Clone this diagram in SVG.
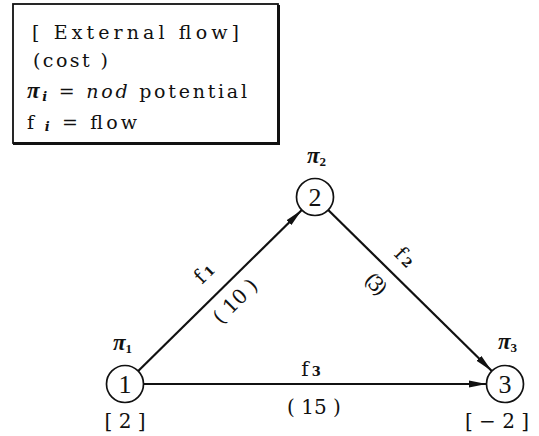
<svg xmlns="http://www.w3.org/2000/svg" width="539" height="436" viewBox="0 0 539 436">
<defs>
<style>
text{font-family:"Liberation Serif","DejaVu Serif",serif;fill:#111}
.dv{font-family:"DejaVu Serif","Liberation Serif",serif}
.leg{font-size:19px}
.num{font-size:26px;text-anchor:middle}
.lab{font-size:20px;text-anchor:middle}
.pi{font-size:23px;font-style:italic;font-weight:bold;font-family:"Liberation Serif",serif}
.sub{font-size:13px;font-weight:bold}
.node{fill:#fff;stroke:#111;stroke-width:1.7}
.edge{stroke:#111;stroke-width:2.2;fill:none;marker-end:url(#arr)}
</style>
<marker id="arr" markerUnits="userSpaceOnUse" markerWidth="20" markerHeight="10" refX="18" refY="5" orient="auto">
<path d="M0,1.5 L18,5 L0,8.5 z" fill="#111"/>
</marker>
</defs>
<rect width="539" height="436" fill="#fff"/>
<g id="legend">
<rect x="13" y="4" width="265" height="139" fill="#fff" stroke="#111" stroke-width="1.8"/>
<path d="M278.5,5 V143.5 H13" fill="none" stroke="#111" stroke-width="3"/>
<text class="leg dv" x="32" y="39" textLength="207" lengthAdjust="spacing">[ External  flow]</text>
<text class="leg dv" x="33" y="67" textLength="75" lengthAdjust="spacing">(cost )</text>
<text class="leg dv" x="27" y="98" textLength="220" lengthAdjust="spacing"><tspan class="pi" font-size="22px">π</tspan><tspan class="sub" font-style="italic" dy="3">i</tspan><tspan dy="-3"> = </tspan><tspan font-style="italic">nod</tspan><tspan> potential</tspan></text>
<text class="leg dv" x="27" y="129" textLength="110" lengthAdjust="spacing"><tspan>f</tspan><tspan class="sub" font-style="italic" dy="2"> i</tspan><tspan dy="-2"> = flow</tspan></text>
</g>
<g id="connectors">
<line class="edge" x1="138.2" y1="371" x2="301.8" y2="210"/>
<line class="edge" x1="328.2" y1="210" x2="491.8" y2="371"/>
<line class="edge" x1="143.5" y1="384" x2="486.5" y2="384"/>
<g transform="translate(204,273) rotate(-45)"><text class="lab dv" x="0" y="7">f<tspan class="sub" dx="3">1</tspan></text></g>
<g transform="translate(235,301) rotate(-45)"><text class="lab dv" x="0" y="7">( 10 )</text></g>
<g transform="translate(405,257) rotate(45)"><text class="lab dv" x="0" y="7">f<tspan class="sub" dx="3">2</tspan></text></g>
<g transform="translate(375,283) rotate(45)"><text class="lab dv" x="0" y="7" font-size="19px" letter-spacing="-3">(3)</text></g>
<text class="lab dv" x="311" y="376">f<tspan class="sub" dx="3">3</tspan></text>
<text class="lab dv" x="314" y="414">( 15 )</text>
</g>
<g id="node1">
<circle class="node" cx="125" cy="384" r="18.5"/>
<text class="num" x="125" y="393">1</text>
<text x="113" y="350"><tspan class="pi">π</tspan><tspan class="sub" dy="3">1</tspan></text>
<text class="lab dv" x="125" y="428" font-size="21px">[ 2 ]</text>
</g>
<g id="node2">
<circle class="node" cx="315" cy="197" r="18.5"/>
<text class="num" x="315" y="206">2</text>
<text x="307" y="163"><tspan class="pi">π</tspan><tspan class="sub" dy="3">2</tspan></text>
</g>
<g id="node3">
<circle class="node" cx="505" cy="384" r="18.5"/>
<text class="num" x="505" y="393">3</text>
<text x="498" y="349"><tspan class="pi">π</tspan><tspan class="sub" dy="3">3</tspan></text>
<text class="lab dv" x="497" y="428" font-size="21px">[ − 2 ]</text>
</g>
</svg>
